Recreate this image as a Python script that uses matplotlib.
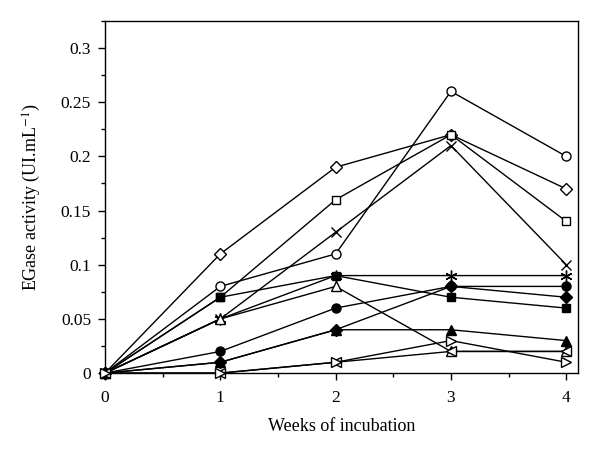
import matplotlib
matplotlib.use('Agg')
import matplotlib.pyplot as plt
from matplotlib.ticker import MultipleLocator, FuncFormatter

plt.rcParams['font.family'] = ['Liberation Serif', 'DejaVu Serif']
plt.rcParams['mathtext.fontset'] = 'stix'

weeks = [0, 1, 2, 3, 4]

# one list per treatment
open_circle = [0, 0.08, 0.11, 0.26, 0.20]
open_diamond = [0, 0.11, 0.19, 0.22, 0.17]
open_square = [0, 0.07, 0.16, 0.22, 0.14]
cross = [0, 0.05, 0.13, 0.21, 0.10]
asterisk = [0, 0.05, 0.09, 0.09, 0.09]
open_up = [0, 0.05, 0.08, 0.02, 0.02]
filled_circle = [0, 0.02, 0.06, 0.08, 0.08]
filled_diamond = [0, 0.01, 0.04, 0.08, 0.07]
filled_square = [0, 0.07, 0.09, 0.07, 0.06]
filled_up = [0, 0.01, 0.04, 0.04, 0.03]
open_left = [0, 0, 0.01, 0.02, 0.02]
open_right = [0, 0, 0.01, 0.03, 0.01]

series = [
    (open_circle, 'o', 'white', 6.5),
    (open_diamond, 'D', 'white', 6),
    (open_square, 's', 'white', 6),
    (cross, 'x', 'black', 7.5),
    (asterisk, (6, 2, 0), 'black', 8.5),
    (open_up, '^', 'white', 6.5),
    (filled_circle, 'o', 'black', 6.5),
    (filled_diamond, 'D', 'black', 6),
    (filled_square, 's', 'black', 6),
    (filled_up, '^', 'black', 6.5),
    (open_left, '<', 'white', 6.5),
    (open_right, '>', 'white', 6.5),
]

fig = plt.figure(figsize=(6, 4.55), dpi=100)
ax = fig.add_axes([0.175, 0.18, 0.788, 0.774])

for vals, mk, fc, ms in series:
    ax.plot(weeks, vals, color='black', lw=1.0, marker=mk, markersize=ms,
            markerfacecolor=fc, markeredgecolor='black', markeredgewidth=1.0,
            clip_on=False, zorder=3)

ax.set_xlim(0, 4.1)
ax.set_ylim(0, 0.325)
ax.xaxis.set_major_locator(MultipleLocator(1))
ax.xaxis.set_minor_locator(MultipleLocator(0.5))
ax.yaxis.set_major_locator(MultipleLocator(0.05))
ax.yaxis.set_minor_locator(MultipleLocator(0.025))
ax.yaxis.set_major_formatter(FuncFormatter(lambda v, p: '%g' % round(v, 3)))
ax.tick_params(which='both', direction='out', top=False, right=False, labelsize=12.5)
ax.tick_params(which='major', length=5, width=1)
ax.tick_params(which='minor', length=3, width=1)
ax.tick_params(axis='x', pad=7)
ax.tick_params(axis='y', pad=5)
for s in ax.spines.values():
    s.set_linewidth(1.0)

ax.set_xlabel('Weeks of incubation', fontsize=13, labelpad=9)
ax.set_ylabel('EGase activity (UI.mL$^{-1}$)', fontsize=13, labelpad=13)

fig.savefig('out.png', dpi=100)
